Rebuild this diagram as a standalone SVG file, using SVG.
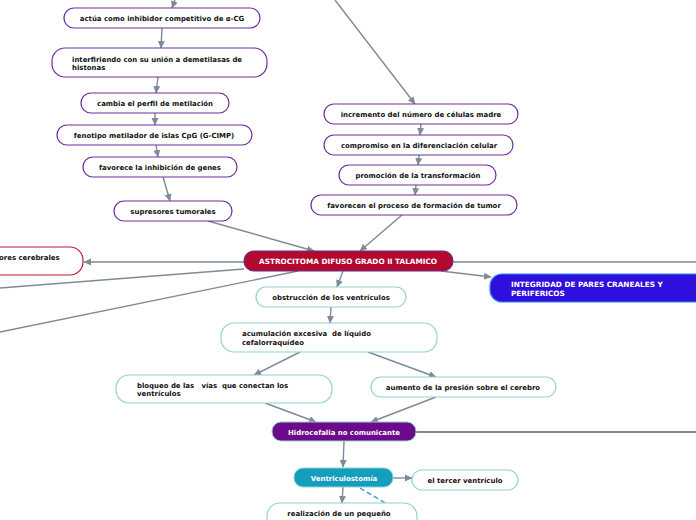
<svg xmlns="http://www.w3.org/2000/svg" width="696" height="520" viewBox="0 0 696 520">
<defs>
<marker id="ah" markerUnits="userSpaceOnUse" markerWidth="8" markerHeight="8" refX="7" refY="4" orient="auto">
<path d="M0,0.5 L7.5,4 L0,7.5 z" fill="#7d8b97"/>
</marker>
</defs>
<style>
.c{fill:none;stroke:#7d8b97;stroke-width:1.4}
.a{marker-end:url(#ah)}
.p{fill:#fff;stroke:#6f2f9c;stroke-width:1.2}
.t{fill:#fff;stroke:#8fd4cd;stroke-width:1.2}
.r{fill:#fff;stroke:#c5173f;stroke-width:1.2}
text{font-family:"DejaVu Sans","Verdana",sans-serif;font-weight:bold;font-size:6.95px;fill:#111}
.w{fill:#fff}
.u{font-size:7.3px}
.m{text-anchor:middle}
</style>
<rect width="696" height="520" fill="#fff"/>
<g id="connectors">
<line class="c a" x1="175" y1="0" x2="172" y2="8"/>
<line class="c a" x1="162" y1="28" x2="161" y2="48"/>
<line class="c a" x1="158" y1="77" x2="156" y2="93"/>
<line class="c a" x1="155" y1="113" x2="155" y2="125"/>
<line class="c a" x1="156" y1="145" x2="158" y2="157"/>
<line class="c a" x1="163" y1="177" x2="170" y2="201"/>
<line class="c a" x1="208" y1="221" x2="314" y2="251"/>
<line class="c a" x1="335" y1="0" x2="415" y2="104"/>
<line class="c a" x1="421" y1="124" x2="420" y2="135"/>
<line class="c a" x1="419" y1="155" x2="418" y2="165"/>
<line class="c a" x1="416" y1="185" x2="415" y2="195"/>
<line class="c a" x1="402" y1="215" x2="360" y2="251"/>
<line class="c a" x1="244" y1="262" x2="84" y2="262"/>
<line class="c" x1="244" y1="269" x2="0" y2="288"/>
<line class="c" x1="298" y1="271" x2="0" y2="332"/>
<line class="c" x1="453" y1="262" x2="696" y2="262"/>
<line class="c a" x1="441" y1="271" x2="491" y2="277"/>
<line class="c a" x1="343" y1="271" x2="337" y2="287"/>
<line class="c a" x1="331" y1="307" x2="330" y2="323"/>
<line class="c a" x1="300" y1="352" x2="254" y2="375"/>
<line class="c a" x1="368" y1="352" x2="436" y2="377"/>
<line class="c a" x1="265" y1="403" x2="316" y2="422"/>
<line class="c a" x1="436" y1="397" x2="371" y2="422"/>
<line class="c" x1="416" y1="432" x2="696" y2="432" style="stroke-width:2"/>
<line class="c a" x1="344" y1="441" x2="343" y2="467"/>
<line class="c a" x1="393" y1="478" x2="412" y2="478"/>
<line class="c a" x1="343" y1="487" x2="342" y2="503"/>
<line x1="360" y1="488" x2="387" y2="504" stroke="#2b9bf0" stroke-width="1.4" stroke-dasharray="5,3" fill="none"/>
</g>
<g id="n1"><rect class="p" x="64" y="8" width="196" height="20" rx="10"/><text class="m" x="162" y="21">actúa como inhibidor competitivo de α-CG</text></g>
<g id="n2"><rect class="p" x="52" y="48" width="215" height="29" rx="13"/><text x="72" y="62">interfiriendo con su unión a demetilasas de</text><text x="72" y="70">histonas</text></g>
<g id="n3"><rect class="p" x="81" y="93" width="148" height="20" rx="10"/><text class="m" x="155" y="106">cambia el perfil de metilación</text></g>
<g id="n4"><rect class="p" x="57" y="125" width="195" height="20" rx="10"/><text class="m" x="154" y="138">fenotipo metilador de islas CpG (G-CIMP)</text></g>
<g id="n5"><rect class="p" x="83" y="157" width="154" height="20" rx="10"/><text class="m" x="160" y="170">favorece la inhibición de genes</text></g>
<g id="n6"><rect class="p" x="114" y="201" width="118" height="20" rx="10"/><text class="m" x="173" y="214">supresores tumorales</text></g>
<g id="n7"><rect class="p" x="324" y="104" width="194" height="20" rx="10"/><text class="m" x="421" y="117">incremento del número de células madre</text></g>
<g id="n8"><rect class="p" x="324" y="135" width="189" height="20" rx="10"/><text class="m" x="419" y="148">compromiso en la diferenciación celular</text></g>
<g id="n9"><rect class="p" x="339" y="165" width="157" height="20" rx="10"/><text class="m" x="418" y="178">promoción de la transformación</text></g>
<g id="n10"><rect class="p" x="311" y="195" width="206" height="20" rx="10"/><text class="m" x="414" y="208">favorecen el proceso de formación de tumor</text></g>
<g id="central"><rect x="244" y="251" width="209" height="20" rx="10" fill="#b20a2f" stroke="#6b2a8f" stroke-width="1.2"/><text class="m w u" x="348" y="264">ASTROCITOMA DIFUSO GRADO II TALAMICO</text></g>
<g id="n11"><rect class="r" x="-40" y="247" width="123" height="28" rx="13"/><text x="-1" y="260">ores cerebrales</text></g>
<g id="n12"><rect x="490" y="274" width="220" height="28" rx="12" fill="#300fdd" stroke="#2f88f0" stroke-width="1.2"/><text class="w u" x="511" y="287">INTEGRIDAD DE PARES CRANEALES Y</text><text class="w u" x="511" y="296">PERIFERICOS</text></g>
<g id="n13"><rect class="t" x="256" y="287" width="150" height="20" rx="10"/><text class="m" x="331" y="300">obstrucción de los ventrículos</text></g>
<g id="n14"><rect class="t" x="221" y="323" width="216" height="29" rx="13"/><text x="242" y="336" xml:space="preserve">acumulación excesiva  de líquido</text><text x="242" y="345">cefalorraquídeo</text></g>
<g id="n15"><rect class="t" x="116" y="375" width="216" height="28" rx="13"/><text x="137" y="388" xml:space="preserve">bloqueo de las   vías  que conectan los</text><text x="137" y="396">ventrículos</text></g>
<g id="n16"><rect class="t" x="371" y="377" width="185" height="20" rx="10"/><text class="m" x="463" y="390">aumento de la presión sobre el cerebro</text></g>
<g id="n17"><rect x="272" y="422" width="144" height="19" rx="9" fill="#6c0a8b" stroke="#8fd4cd" stroke-width="1"/><text class="m w" x="344" y="435">Hidrocefalia no comunicante</text></g>
<g id="n18"><rect x="294" y="468" width="99" height="19" rx="9" fill="#149dbd" stroke="#8fd4cd" stroke-width="1"/><text class="m w" x="344" y="481">Ventriculostomía</text></g>
<g id="n19"><rect class="t" x="412" y="470" width="106" height="20" rx="10"/><text class="m" x="465" y="483">el tercer ventrículo</text></g>
<g id="n20"><rect class="t" x="267" y="503" width="150" height="40" rx="13"/><text class="m" x="339" y="516">realización de un pequeño</text></g>
</svg>
